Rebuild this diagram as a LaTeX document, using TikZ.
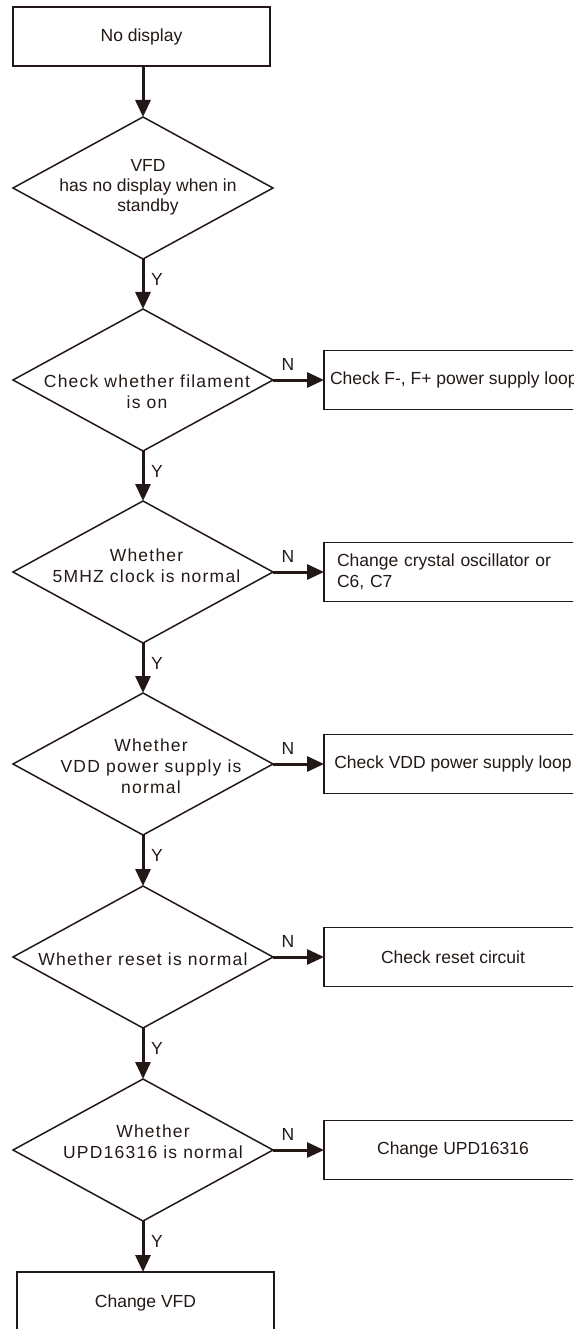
\documentclass[tikz,border=0pt]{standalone}
\usepackage{fontspec}
\setmainfont{Liberation Sans}
\newfontfamily\trackedfont[LetterSpace=7]{Liberation Sans}
\usetikzlibrary{shapes.geometric,arrows.meta,calc}
\definecolor{ink}{RGB}{35,24,21}
\begin{document}
\begin{tikzpicture}[x=1pt,y=-1pt,
  every node/.style={text=ink, font=\fontsize{17.5}{20}\selectfont, outer sep=0pt},
  box/.style={draw=ink, line width=1.8pt, minimum width=257pt, minimum height=59pt, inner sep=0pt},
  sidebox/.style={box, minimum width=258pt, anchor=west},
  decision/.style={draw=ink, line width=1.5pt, diamond, minimum width=260pt, minimum height=142pt, inner sep=0pt},
  dtext/.style={align=center, inner sep=0pt},
  tracked/.style={font=\fontsize{17.5}{21}\selectfont\trackedfont},
  flow/.style={draw=ink, line width=3pt, -{Triangle[length=17pt,width=15pt]}},
  branch/.style={inner sep=0pt}
]
\useasboundingbox (0,0) rectangle (573,1329);
\clip (0,0) rectangle (573,1329);

% main column
\node[box] (start) at (141.5,36.5) {No display};

\node[decision] (d1) at (143,188) {};
\node[dtext] (d1t) at (148,187) {VFD\\has no display when in\\standby};

\node[decision] (d2) at (143,380) {};
\node[dtext, tracked] (d2t) at (147,392) {Check whether filament\\is on};

\node[decision] (d3) at (143,572) {};
\node[dtext, tracked] (d3t) at (146.5,566) {Whether\\5MHZ clock is normal};

\node[decision] (d4) at (143,764) {};
\node[dtext, tracked] (d4t) at (151,766) {Whether\\VDD power supply is\\normal};

\node[decision] (d5) at (143,957) {};
\node[dtext, tracked] (d5t) at (143,959) {Whether reset is normal};

\node[decision] (d6) at (143,1150) {};
\node[dtext, tracked] (d6t) at (153,1142) {Whether\\UPD16316 is normal};

\node[box, minimum height=62pt] (fin) at (145.5,1303) {Change VFD};

% side actions
\node[sidebox, inner xsep=6pt] (b2) at (324,380) {Check F-, F+ power supply loop};
\node[sidebox, inner xsep=13pt, text width=232pt, align=left,
      font=\fontsize{17.5}{21}\selectfont] (b3) at (324,572) {Change crystal oscillator or\\C6, C7};
\node[sidebox] (b4) at (324,764) {Check VDD power supply loop};
\node[sidebox] (b5) at (324,957) {Check reset circuit};
\node[sidebox] (b6) at (324,1150) {Change UPD16316};

% connectors down the column
\draw[flow] (start.south -| d1.north) -- (d1.north);
\draw[flow] (d1.south) -- (d2.north);
\draw[flow] (d2.south) -- (d3.north);
\draw[flow] (d3.south) -- (d4.north);
\draw[flow] (d4.south) -- (d5.north);
\draw[flow] (d5.south) -- (d6.north);
\draw[flow] (d6.south) -- (d6.south |- fin.north);

% connectors to the side actions
\draw[flow] (d2.east) -- (b2.west);
\draw[flow] (d3.east) -- (b3.west);
\draw[flow] (d4.east) -- (b4.west);
\draw[flow] (d5.east) -- (b5.west);
\draw[flow] (d6.east) -- (b6.west);

% branch labels
\node[branch] (y1) at ($(d1.south)+(14,20)$) {Y};
\node[branch] (y2) at ($(d2.south)+(14,20)$) {Y};
\node[branch] (y3) at ($(d3.south)+(14,20)$) {Y};
\node[branch] (y4) at ($(d4.south)+(14,20)$) {Y};
\node[branch] (y5) at ($(d5.south)+(14,20)$) {Y};
\node[branch] (y6) at ($(d6.south)+(14,20)$) {Y};

\node[branch] (n2) at ($(d2.east)+(15,-16)$) {N};
\node[branch] (n3) at ($(d3.east)+(15,-16)$) {N};
\node[branch] (n4) at ($(d4.east)+(15,-16)$) {N};
\node[branch] (n5) at ($(d5.east)+(15,-16)$) {N};
\node[branch] (n6) at ($(d6.east)+(15,-16)$) {N};
\end{tikzpicture}
\end{document}
